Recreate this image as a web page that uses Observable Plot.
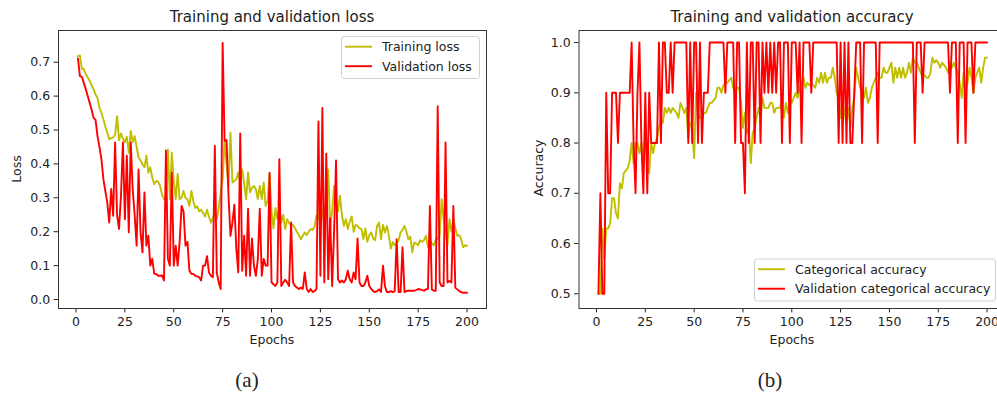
<!DOCTYPE html>
<html><head><meta charset="utf-8">
<script src="https://cdn.jsdelivr.net/npm/d3@7"></script>
<script src="https://cdn.jsdelivr.net/npm/@observablehq/plot@0.6"></script>
<style>
html,body{margin:0;padding:0;background:#fff;overflow:hidden;}
#fig{position:relative;width:997px;height:394px;overflow:hidden;background:#fff;}
#fig > svg, #fig > figure{position:absolute;top:0;margin:0;}
</style>
</head><body>
<div id="fig"></div>
<script>
// ---------- data ----------
const xTicks = [0, 25, 50, 75, 100, 125, 150, 175, 200];
const lossTicks = [0.0, 0.1, 0.2, 0.3, 0.4, 0.5, 0.6, 0.7];
const accTicks = [0.5, 0.6, 0.7, 0.8, 0.9, 1.0];
const seriesNames = ["Training loss", "Validation loss", "Categorical accuracy", "Validation categorical accuracy"];
const panelTitles = ["Training and validation loss", "Training and validation accuracy"];
const captions = ["(a)", "(b)"];

const trainLoss = [
0.718,0.72,0.68,0.68,0.665,0.655,0.645,0.632,0.62,0.605,
0.595,0.566,0.55,0.531,0.51,0.492,0.473,0.476,0.478,0.486,
0.541,0.47,0.49,0.475,0.464,0.48,0.433,0.497,0.464,0.482,
0.45,0.419,0.41,0.399,0.39,0.424,0.374,0.39,0.36,0.34,
0.35,0.348,0.335,0.31,0.296,0.3,0.443,0.296,0.433,0.35,
0.296,0.37,0.296,0.3,0.32,0.3,0.296,0.276,0.32,0.29,
0.27,0.275,0.26,0.265,0.255,0.245,0.265,0.245,0.227,0.24,
0.255,0.237,0.27,0.316,0.355,0.468,0.4,0.335,0.492,0.345,
0.35,0.355,0.375,0.345,0.384,0.34,0.296,0.375,0.316,0.33,
0.335,0.325,0.296,0.335,0.296,0.345,0.276,0.29,0.37,0.26,
0.21,0.27,0.237,0.27,0.227,0.25,0.208,0.237,0.225,0.217,
0.22,0.21,0.2,0.19,0.178,0.188,0.198,0.19,0.2,0.208,
0.205,0.215,0.247,0.237,0.3,0.25,0.23,0.26,0.384,0.217,
0.26,0.335,0.28,0.26,0.306,0.25,0.217,0.237,0.208,0.23,
0.245,0.2,0.22,0.217,0.21,0.208,0.178,0.21,0.17,0.19,
0.198,0.18,0.175,0.217,0.227,0.178,0.22,0.198,0.217,0.19,
0.15,0.17,0.16,0.165,0.175,0.198,0.205,0.217,0.2,0.178,
0.185,0.139,0.168,0.165,0.16,0.175,0.17,0.175,0.188,0.154,
0.175,0.165,0.16,0.175,0.18,0.188,0.296,0.237,0.2,0.16,
0.237,0.2,0.237,0.21,0.188,0.19,0.178,0.154,0.16,0.158];

const valLoss = [
0.711,0.659,0.657,0.639,0.62,0.6,0.58,0.56,0.536,0.53,
0.482,0.45,0.414,0.355,0.32,0.286,0.227,0.326,0.247,0.463,
0.25,0.208,0.306,0.463,0.237,0.424,0.198,0.463,0.326,0.25,
0.159,0.384,0.2,0.139,0.316,0.159,0.188,0.1,0.12,0.076,
0.075,0.07,0.07,0.071,0.056,0.44,0.12,0.1,0.374,0.1,
0.159,0.1,0.17,0.276,0.26,0.159,0.17,0.085,0.076,0.075,
0.07,0.068,0.066,0.056,0.1,0.1,0.128,0.08,0.07,0.066,
0.453,0.08,0.05,0.031,0.757,0.468,0.47,0.306,0.188,0.227,
0.28,0.15,0.08,0.49,0.085,0.188,0.07,0.268,0.07,0.18,
0.1,0.07,0.12,0.268,0.07,0.12,0.1,0.1,0.374,0.051,
0.045,0.04,0.05,0.414,0.04,0.05,0.058,0.05,0.04,0.227,
0.05,0.04,0.035,0.031,0.035,0.031,0.08,0.031,0.022,0.031,
0.022,0.025,0.031,0.525,0.07,0.565,0.05,0.43,0.06,0.24,
0.04,0.2,0.41,0.06,0.05,0.056,0.05,0.06,0.085,0.06,
0.05,0.08,0.06,0.18,0.05,0.04,0.04,0.05,0.07,0.04,
0.031,0.025,0.022,0.025,0.03,0.022,0.1,0.04,0.022,0.022,
0.025,0.022,0.025,0.178,0.022,0.022,0.154,0.022,0.025,0.026,
0.026,0.026,0.026,0.028,0.031,0.03,0.028,0.026,0.03,0.031,
0.276,0.03,0.026,0.026,0.57,0.05,0.04,0.04,0.463,0.05,
0.055,0.05,0.276,0.035,0.03,0.025,0.022,0.02,0.02,0.02];

const trainAcc = [
0.5,0.5,0.63,0.57,0.63,0.63,0.64,0.69,0.69,0.66,
0.65,0.72,0.71,0.74,0.745,0.75,0.765,0.8,0.76,0.8,
0.8,0.78,0.8,0.75,0.82,0.75,0.74,0.8,0.78,0.8,
0.81,0.83,0.85,0.84,0.87,0.86,0.87,0.86,0.87,0.865,
0.86,0.85,0.88,0.87,0.86,0.87,0.81,0.84,0.83,0.77,
0.9,0.86,0.85,0.85,0.86,0.86,0.87,0.88,0.88,0.885,
0.89,0.91,0.91,0.9,0.915,0.92,0.92,0.925,0.93,0.91,
0.9,0.91,0.91,0.88,0.83,0.86,0.82,0.83,0.76,0.82,
0.83,0.85,0.87,0.85,0.89,0.87,0.87,0.87,0.88,0.88,
0.86,0.87,0.87,0.87,0.89,0.85,0.88,0.86,0.89,0.88,
0.89,0.9,0.89,0.91,0.92,0.93,0.91,0.92,0.915,0.92,
0.915,0.91,0.93,0.92,0.94,0.92,0.94,0.92,0.93,0.93,
0.95,0.93,0.9,0.89,0.85,0.88,0.86,0.84,0.87,0.83,
0.87,0.89,0.95,0.93,0.91,0.9,0.89,0.91,0.88,0.89,
0.91,0.92,0.93,0.94,0.93,0.93,0.95,0.94,0.94,0.95,
0.96,0.92,0.95,0.93,0.95,0.93,0.95,0.93,0.94,0.96,
0.94,0.97,0.96,0.96,0.95,0.94,0.93,0.935,0.93,0.93,
0.94,0.97,0.96,0.965,0.96,0.95,0.96,0.955,0.95,0.94,
0.96,0.95,0.96,0.95,0.94,0.92,0.89,0.94,0.9,0.92,
0.95,0.93,0.9,0.93,0.94,0.95,0.92,0.95,0.97,0.97];

const valAcc = [
0.5,0.7,0.5,0.5,0.9,0.7,0.7,0.9,0.9,0.9,
0.8,0.9,0.9,0.9,0.9,0.9,0.9,1.0,0.8,0.7,
0.9,1.0,0.8,0.7,0.9,0.7,0.9,0.8,0.8,0.8,
0.8,1.0,0.8,1.0,1.0,0.9,0.9,1.0,0.9,1.0,
1.0,1.0,1.0,1.0,1.0,1.0,0.8,1.0,0.8,1.0,
1.0,0.8,1.0,0.8,0.9,0.9,0.9,1.0,1.0,1.0,
1.0,1.0,1.0,1.0,1.0,0.9,1.0,1.0,1.0,1.0,
0.8,1.0,1.0,0.8,0.8,0.7,1.0,0.8,1.0,1.0,
0.8,1.0,1.0,0.8,1.0,0.9,1.0,0.9,1.0,0.9,
1.0,0.9,1.0,1.0,0.8,1.0,1.0,1.0,0.8,1.0,
1.0,1.0,0.9,1.0,0.8,1.0,1.0,1.0,1.0,0.9,
1.0,1.0,1.0,1.0,1.0,1.0,1.0,1.0,1.0,1.0,
1.0,1.0,1.0,0.8,1.0,0.8,1.0,0.8,1.0,0.8,
0.8,0.9,1.0,1.0,1.0,0.8,1.0,1.0,1.0,1.0,
1.0,1.0,1.0,0.8,1.0,1.0,1.0,1.0,1.0,1.0,
1.0,1.0,1.0,1.0,1.0,1.0,1.0,1.0,1.0,1.0,
1.0,1.0,0.8,1.0,1.0,1.0,0.9,1.0,1.0,1.0,
1.0,1.0,1.0,1.0,1.0,1.0,1.0,1.0,1.0,1.0,
0.9,1.0,1.0,1.0,0.8,1.0,1.0,1.0,0.8,1.0,
1.0,1.0,0.9,1.0,1.0,1.0,1.0,1.0,1.0,1.0];

const epochs = d3.range(1, trainLoss.length + 1);
const OLIVE = "#bfbf00", RED = "#ff0000";
const FONT = "DejaVu Sans, sans-serif";

function rows(vals) { return vals.map((v, i) => ({epoch: epochs[i], value: v})); }

const fig = document.getElementById("fig");

function panel({width, marginLeft, marginRight, yDomain, yTicks, a, b}) {
  return Plot.plot({
    width, height: 394,
    marginTop: 30, marginBottom: 86, marginLeft, marginRight,
    style: {fontFamily: FONT, fontSize: "12.5px", color: "#222", background: "transparent", overflow: "visible"},
    x: {domain: [-8.95, 209.95], ticks: xTicks, tickSize: 4.4, tickPadding: 4, label: null, tickFormat: d3.format("d")},
    y: {domain: yDomain, ticks: yTicks, tickSize: 4.4, tickPadding: 4, label: null, tickFormat: d3.format(".1f")},
    marks: [
      Plot.line(rows(a), {x: "epoch", y: "value", stroke: OLIVE, strokeWidth: 1.9}),
      Plot.line(rows(b), {x: "epoch", y: "value", stroke: RED, strokeWidth: 1.9}),
      Plot.frame({stroke: "#333", strokeWidth: 1})
    ]
  });
}

const left = panel({width: 497, marginLeft: 58, marginRight: 11, yDomain: [-0.0265, 0.7935], yTicks: lossTicks, a: trainLoss, b: valLoss});
left.style.left = "0px";
fig.appendChild(left);

const right = panel({width: 509, marginLeft: 81.5, marginRight: 0, yDomain: [0.4707, 1.024], yTicks: accTicks, a: trainAcc, b: valAcc});
right.style.left = "497px";
fig.appendChild(right);

// ---------- overlay text: titles, axis labels, legends, captions ----------
const ov = d3.select(fig).append("svg")
  .attr("width", 997).attr("height", 394)
  .style("position", "absolute").style("left", 0).style("top", 0)
  .style("font-family", FONT).style("fill", "#222");

function txt(x, y, s, size, anchor, rot, family) {
  const t = ov.append("text").attr("x", x).attr("y", y).attr("font-size", size)
    .attr("text-anchor", anchor || "middle").text(s);
  if (rot) t.attr("transform", `rotate(${rot},${x},${y})`);
  if (family) t.attr("font-family", family);
  return t;
}
txt(272, 21.5, panelTitles[0], 15);
txt(792, 21.5, panelTitles[1], 15);
txt(272, 344, "Epochs", 12.5);
txt(792, 344, "Epochs", 12.5);
txt(21, 169, "Loss", 12.5, "middle", -90);
txt(543, 168, "Accuracy", 12.5, "middle", -90);
txt(247, 387, captions[0], 21, "middle", 0, "Liberation Serif, serif");
txt(770, 387, captions[1], 21, "middle", 0, "Liberation Serif, serif");

function legend(x, y, w, h, items) {
  ov.append("rect").attr("x", x + 0.5).attr("y", y + 0.5).attr("width", w).attr("height", h)
    .attr("rx", 3).attr("fill", "#fff").attr("fill-opacity", 0.8).attr("stroke", "#d0d0d0");
  items.forEach((it, i) => {
    const ly = y + 10.7 + i * 19.5;
    ov.append("line").attr("x1", x + 4).attr("x2", x + 31).attr("y1", ly).attr("y2", ly)
      .attr("stroke", it.color).attr("stroke-width", 1.9);
    ov.append("text").attr("x", x + 41).attr("y", ly).attr("dy", "0.36em")
      .attr("font-size", 12.5).text(it.name);
  });
}
legend(341, 36, 138, 42, [{name: seriesNames[0], color: OLIVE}, {name: seriesNames[1], color: RED}]);
legend(754, 258.5, 241, 42, [{name: seriesNames[2], color: OLIVE}, {name: seriesNames[3], color: RED}]);
</script>
</body></html>
